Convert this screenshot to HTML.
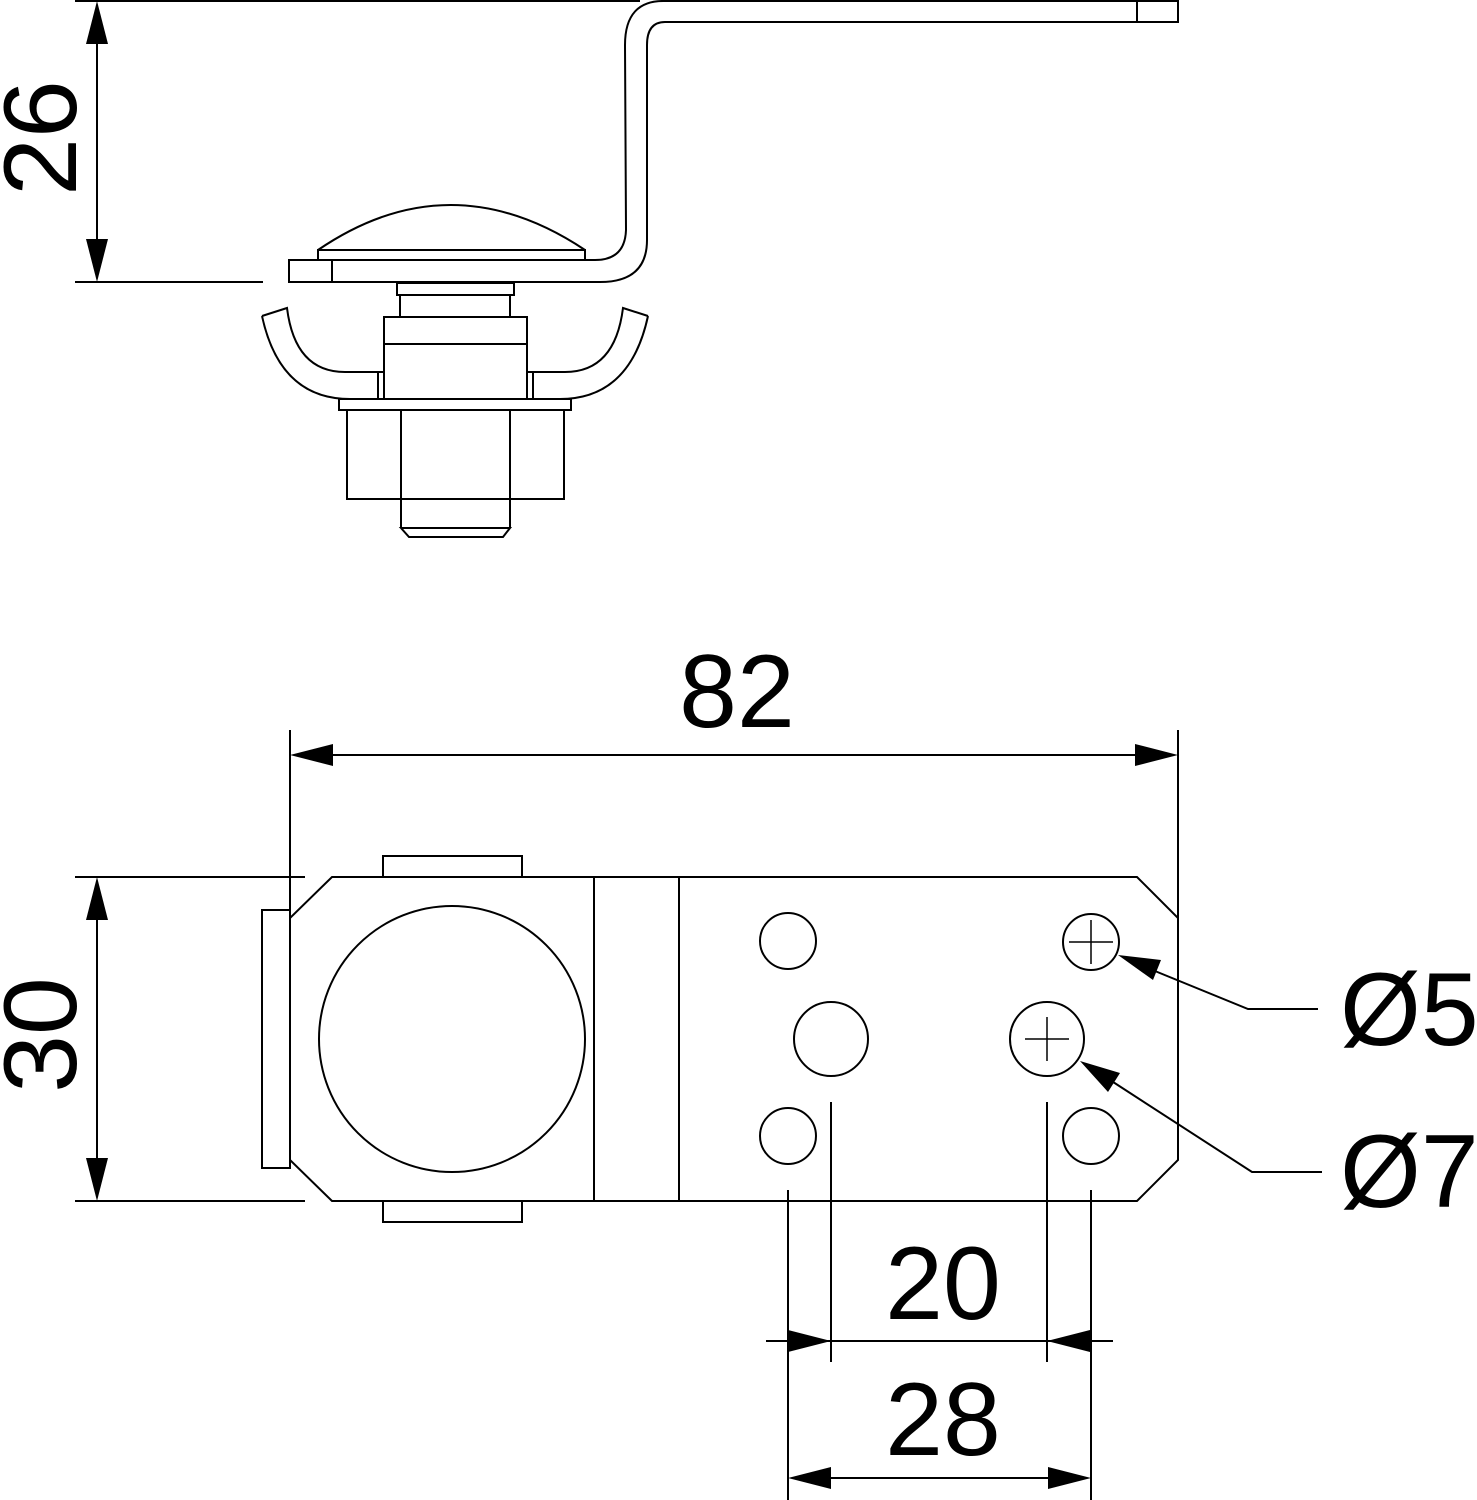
<!DOCTYPE html>
<html><head><meta charset="utf-8"><style>
html,body{margin:0;padding:0;background:#fff;}
svg{display:block;}
text{font-family:"Liberation Sans",Arial,sans-serif;font-size:104px;fill:#000;}
</style></head><body>
<svg width="1477" height="1500" viewBox="0 0 1477 1500" xmlns="http://www.w3.org/2000/svg">
<g fill="none" stroke="#000" stroke-width="2">
<!-- top view -->
<line x1="75" y1="1" x2="640" y2="1"/>
<line x1="75" y1="282" x2="263" y2="282"/>
<line x1="97" y1="40" x2="97" y2="240"/>
<!-- Z bracket -->
<path d="M289,260 H595 Q625,260 626,230 L625,45 Q625,0 665,1 H1178 V22 H665 Q647,22 647,45 L647,240 Q647,282 600,282 H289 Z"/>
<line x1="1137" y1="1" x2="1137" y2="22"/>
<line x1="332" y1="260" x2="332" y2="282"/>
<!-- dome -->
<path d="M318,250 Q450,160 585,250"/>
<rect x="318" y="250" width="267" height="10"/>
<!-- collar -->
<rect x="397" y="283" width="117" height="12"/>
<rect x="400" y="295" width="110" height="22"/>
<rect x="384" y="317" width="143" height="82"/>
<line x1="384" y1="344" x2="527" y2="344"/>
<rect x="378" y="372" width="6" height="27"/>
<rect x="527" y="372" width="6" height="27"/>
<!-- clips -->
<path d="M262,316 L287,308 Q295,372 345,372 H378 M262,316 Q280,399 350,399 H378"/>
<path d="M648,316 L623,308 Q615,372 565,372 H533 M648,316 Q630,399 560,399 H533"/>
<rect x="339" y="399" width="232" height="11"/>
<rect x="347" y="410" width="217" height="89"/>
<line x1="401" y1="410" x2="401" y2="528"/>
<line x1="510" y1="410" x2="510" y2="528"/>
<path d="M401,528 H510 L503,537 H409 Z"/>
<!-- bottom view -->
<line x1="290" y1="730" x2="290" y2="910"/>
<line x1="1178" y1="730" x2="1178" y2="918"/>
<line x1="330" y1="755" x2="1140" y2="755"/>
<line x1="75" y1="877" x2="305" y2="877"/>
<line x1="75" y1="1201" x2="305" y2="1201"/>
<line x1="97" y1="918" x2="97" y2="1160"/>
<path d="M332,877 H1137 L1178,918 V1160 L1137,1201 H332 L290,1160 V918 Z"/>
<rect x="262" y="910" width="28" height="258"/>
<rect x="383" y="856" width="139" height="21"/>
<rect x="383" y="1201" width="139" height="21"/>
<circle cx="452" cy="1039" r="133"/>
<line x1="594" y1="877" x2="594" y2="1201"/>
<line x1="679" y1="877" x2="679" y2="1201"/>
<circle cx="788" cy="941" r="28"/>
<circle cx="1091" cy="942" r="28"/>
<circle cx="788" cy="1136" r="28"/>
<circle cx="1091" cy="1136" r="28"/>
<circle cx="831" cy="1039" r="37"/>
<circle cx="1047" cy="1039" r="37"/>
<g stroke-width="1.5">
<line x1="1069" y1="942" x2="1113" y2="942"/><line x1="1091" y1="920" x2="1091" y2="964"/>
<line x1="1025" y1="1039" x2="1069" y2="1039"/><line x1="1047" y1="1017" x2="1047" y2="1061"/>
</g>
<!-- leaders -->
<path d="M1150,969 L1248,1009 H1318"/>
<path d="M1110,1080 L1252,1172 H1322"/>
<!-- 20 / 28 -->
<line x1="831" y1="1102" x2="831" y2="1362"/>
<line x1="1047" y1="1102" x2="1047" y2="1362"/>
<line x1="788" y1="1190" x2="788" y2="1500"/>
<line x1="1091" y1="1190" x2="1091" y2="1500"/>
<line x1="766" y1="1341" x2="1113" y2="1341"/>
<line x1="830" y1="1478" x2="1050" y2="1478"/>
</g>
<g fill="#000">
<polygon points="97,1 86,44 108,44"/>
<polygon points="97,282 86,239 108,239"/>
<polygon points="290,755 333,744 333,766"/>
<polygon points="1178,755 1135,744 1135,766"/>
<polygon points="97,877 86,920 108,920"/>
<polygon points="97,1201 86,1158 108,1158"/>
<polygon points="831,1341 788,1330 788,1352"/>
<polygon points="1047,1341 1090,1330 1090,1352"/>
<polygon points="788,1478 831,1467 831,1489"/>
<polygon points="1091,1478 1048,1467 1048,1489"/>
<polygon points="1118,955 1161,960 1153,980"/>
<polygon points="1080,1061 1120,1073 1108,1092"/>
</g>
<text x="76" y="138" text-anchor="middle" transform="rotate(-90 76 138)">26</text>
<text x="76" y="1035" text-anchor="middle" transform="rotate(-90 76 1035)">30</text>
<text x="737" y="727" text-anchor="middle">82</text>
<text x="943" y="1319" text-anchor="middle">20</text>
<text x="943" y="1455" text-anchor="middle">28</text>
<text x="1340" y="1045">Ø5</text>
<text x="1340" y="1207">Ø7</text>
</svg>
</body></html>
